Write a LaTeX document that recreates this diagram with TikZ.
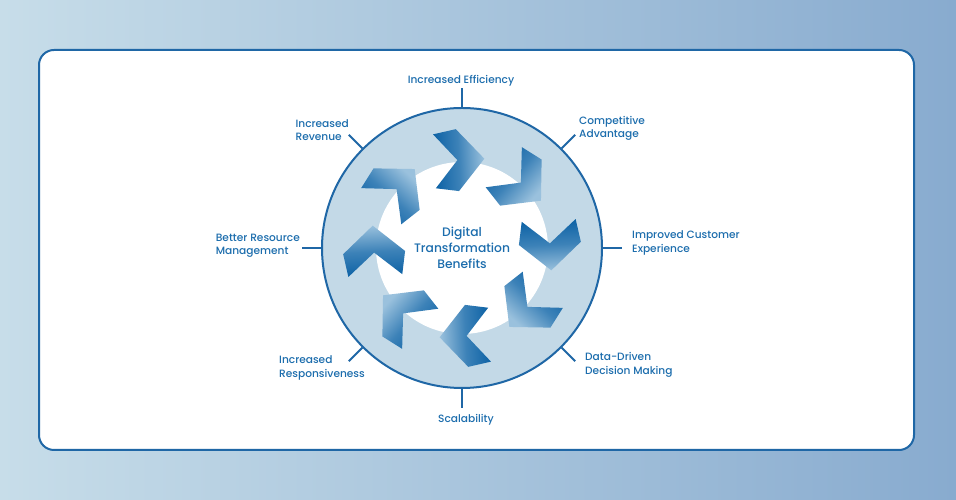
\documentclass[tikz,border=0pt]{standalone}
\usepackage{fontspec}
\setmainfont{Poppins}[UprightFont=*-Medium]
\definecolor{dtBlue}{HTML}{1C6DAD}
\definecolor{dtLine}{HTML}{1F67A6}
\definecolor{dtRing}{HTML}{C3D9E7}
\definecolor{dtBgLeft}{HTML}{C7DDE9}
\definecolor{dtBgRight}{HTML}{88ABCF}
\definecolor{dtDark}{HTML}{0A60A4}
\definecolor{dtLight}{HTML}{9AC1DD}
\usetikzlibrary{calc,positioning}

\begin{document}
\begin{tikzpicture}[x=1pt,y=1pt,
  lbl/.style={font=\fontsize{10.6}{13.5}\selectfont, text=dtBlue, inner sep=0pt},
  tick/.style={dtLine, line width=2pt}]
  % background and white card
  \shade[left color=dtBgLeft, right color=dtBgRight] (0,0) rectangle (956,500);
  \useasboundingbox (0,0) rectangle (956,500);
  \draw[dtLine, line width=2pt, fill=white, rounded corners=15pt] (39,50) rectangle (914,450);

  % ring with white hole
  \node[circle, draw=dtLine, line width=2pt, fill=dtRing, minimum size=280pt, inner sep=0pt] (ring) at (462,252) {};
  \fill[white] (ring.center) circle (86);

  % chevrons running clockwise
  \foreach \a in {93,48,...,-222} {
    \shade[left color=dtDark, right color=dtLight, middle color=dtDark!65!dtLight, shading angle=\a,
      shift={($(ring.center)+(\a:88)$)}, rotate=\a-90]
      (0,0) -- (-23,27) -- (0,31) -- (27,0) -- (0,-31) -- (-23,-27) -- cycle;
  }

  % centre title
  \node[font=\fontsize{12.3}{16}\selectfont, text=dtBlue, align=center] (title) at (ring.center) {Digital\\Transformation\\Benefits};

  % ticks
  \foreach \a in {90,45,0,-45,-90,-135,180,135}
    \draw[tick] (ring.\a) -- ++(\a:19);

  % labels
  \node[lbl] (eff) at (461,419) {Increased Efficiency};
  \node[lbl, align=left, anchor=west] (adv) at (579,371.5) {Competitive\\Advantage};
  \node[lbl, align=left, anchor=west] (cx) at (632,257) {Improved Customer\\Experience};
  \node[lbl, align=left, anchor=west] (data) at (585,135) {Data-Driven\\Decision Making};
  \node[lbl] (scal) at (466,80) {Scalability};
  \node[lbl, align=left, anchor=east] (resp) at (365,132) {Increased\\Responsiveness};
  \node[lbl, align=left, anchor=east] (res) at (300,254) {Better Resource\\Management};
  \node[lbl, align=left, anchor=east] (rev) at (349,370) {Increased\\Revenue};
\end{tikzpicture}
\end{document}
